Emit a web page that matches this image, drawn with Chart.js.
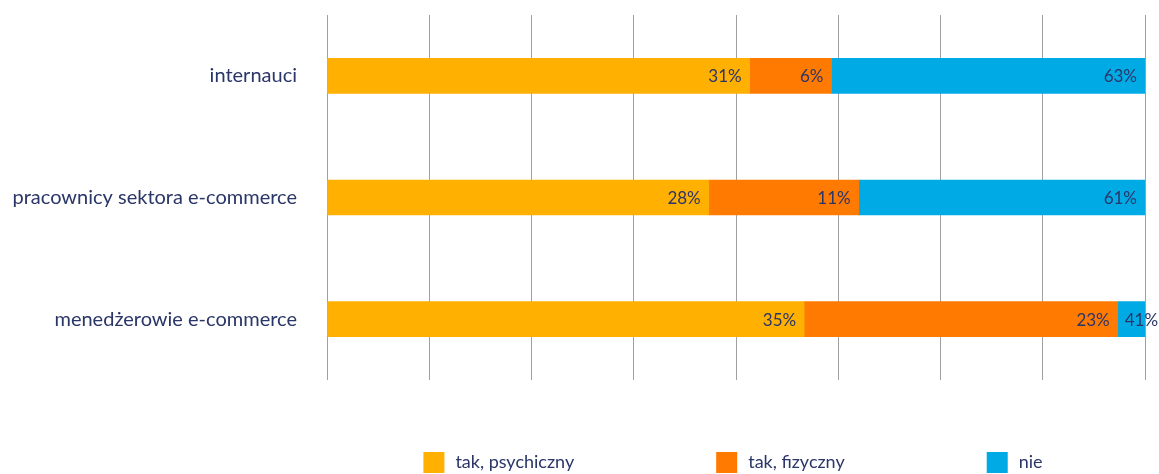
<!DOCTYPE html>
<html lang="pl">
<head>
<meta charset="utf-8">
<title>Przemoc</title>
<script src="https://cdn.jsdelivr.net/npm/chart.js@4.4.1/dist/chart.umd.min.js"></script>
<style>
  html, body { margin: 0; padding: 0; background: #ffffff; }
  #wrap { width: 1159px; height: 474px; position: relative; }
</style>
</head>
<body>
<div id="wrap"><canvas id="chart" width="1159" height="474"></canvas></div>
<script>
// Grupy respondentów
const categories = ['internauci', 'pracownicy sektora e-commerce', 'menedżerowie e-commerce'];

// Odpowiedzi (%)
const seriesNames = ['tak, psychiczny', 'tak, fizyczny', 'nie'];
const takPsychiczny = [31, 28, 35];
const takFizyczny = [6, 11, 23];
const nie = [63, 61, 41];

// Oś wartości: 0–60 co 7,5
const axisMin = 0;
const axisMax = 60;
const axisStep = 7.5;

const colors = ['#FFB000', '#FF7A00', '#00AAE5'];
const textColor = '#2a3568';
const fontFamily = 'Lato, "Noto Sans", sans-serif';

// Etykiety wartości przy końcu każdego segmentu
const valueLabels = {
  id: 'valueLabels',
  afterDatasetsDraw(chart) {
    const ctx = chart.ctx;
    const area = chart.chartArea;
    ctx.save();
    ctx.font = '17px ' + fontFamily;
    ctx.fillStyle = textColor;
    ctx.textBaseline = 'middle';
    chart.data.datasets.forEach((ds, di) => {
      const meta = chart.getDatasetMeta(di);
      meta.data.forEach((bar, i) => {
        const text = ds.data[i] + '%';
        const end = Math.min(bar.x, area.right);
        const start = Math.max(bar.base, area.left);
        const w = ctx.measureText(text).width;
        if (end - start >= w + 16) {
          ctx.textAlign = 'right';
          ctx.fillText(text, end - 8, bar.y + 1);
        } else {
          ctx.textAlign = 'left';
          ctx.fillText(text, start + 7, bar.y + 1);
        }
      });
    });
    ctx.restore();
  }
};

// Legenda pod wykresem
const bottomLegend = {
  id: 'bottomLegend',
  afterDraw(chart) {
    const ctx = chart.ctx;
    const area = chart.chartArea;
    const box = 21, gapText = 11, gapItem = 142;
    ctx.save();
    ctx.font = '18px ' + fontFamily;
    ctx.textBaseline = 'middle';
    ctx.textAlign = 'left';
    const widths = chart.data.datasets.map(ds => box + gapText + ctx.measureText(ds.label).width);
    const total = widths.reduce((a, b) => a + b, 0) + gapItem * (widths.length - 1);
    let x = (area.left + area.right) / 2 - total / 2 - 3;
    const yTop = chart.height - 22;
    chart.data.datasets.forEach((ds, i) => {
      ctx.fillStyle = ds.backgroundColor;
      ctx.fillRect(x, yTop, box, box);
      ctx.fillStyle = textColor;
      ctx.fillText(ds.label, x + box + gapText, yTop + box / 2);
      x += widths[i] + gapItem;
    });
    ctx.restore();
  }
};

new Chart(document.getElementById('chart'), {
  type: 'bar',
  data: {
    labels: categories,
    datasets: [
      { label: seriesNames[0], data: takPsychiczny, backgroundColor: colors[0] },
      { label: seriesNames[1], data: takFizyczny, backgroundColor: colors[1] },
      { label: seriesNames[2], data: nie, backgroundColor: colors[2] }
    ]
  },
  options: {
    indexAxis: 'y',
    responsive: false,
    animation: false,
    layout: { padding: { top: 15, right: 14, bottom: 94, left: 0 } },
    datasets: { bar: { barThickness: 35, borderWidth: 0 } },
    scales: {
      x: {
        stacked: true,
        min: axisMin,
        max: axisMax,
        ticks: { display: false, stepSize: axisStep },
        grid: { color: '#a0a0a0', lineWidth: 1, drawTicks: false },
        border: { display: false }
      },
      y: {
        stacked: true,
        afterFit(scale) {
          scale.width = 327;
          scale.paddingTop = 0;
          scale.paddingBottom = 0;
        },
        ticks: {
          color: textColor,
          padding: 30,
          font: { family: fontFamily, size: 20 }
        },
        grid: { display: false, drawTicks: false },
        border: { display: false }
      }
    },
    plugins: {
      legend: { display: false },
      tooltip: { enabled: false }
    }
  },
  plugins: [valueLabels, bottomLegend]
});
</script>
</body>
</html>
